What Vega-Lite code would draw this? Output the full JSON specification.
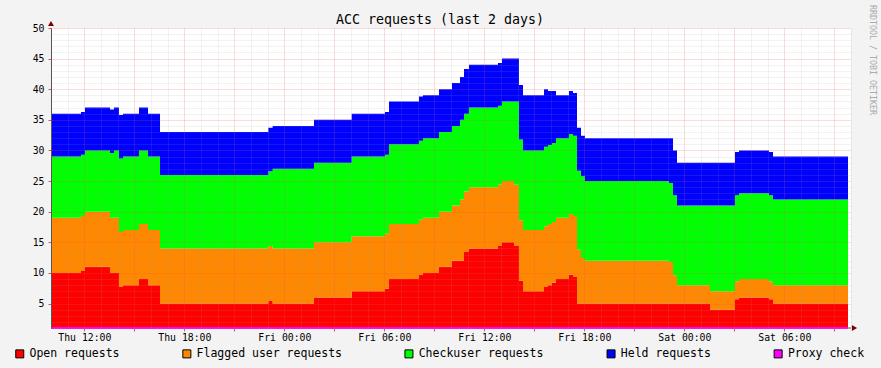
{
  "$schema": "https://vega.github.io/schema/vega-lite/v6.json",
  "width": 800,
  "height": 300,
  "autosize": {"type": "none"},
  "padding": {"left": 51, "top": 28, "right": 30, "bottom": 40},
  "background": "#f3f3f3",
  "view": {"fill": "#ffffff", "stroke": null},
  "config": {"font": "DejaVu Sans Mono"},
  "title": {"text": "ACC requests (last 2 days)", "font": "DejaVu Sans Mono", "fontSize": 13.3, "fontWeight": "normal", "color": "#000000", "anchor": "middle", "dx": -11, "dy": 25, "offset": 4},
  "resolve": {"axis": {"x": "independent", "y": "independent"}},
  "datasets": {
    "acc": [
      {"t": 10.00, "Open requests": 10, "Flagged user requests": 9, "Checkuser requests": 10, "Held requests": 7, "Proxy check": 0},
      {"t": 11.80, "Open requests": 10.3, "Flagged user requests": 9, "Checkuser requests": 10, "Held requests": 7, "Proxy check": 0},
      {"t": 12.04, "Open requests": 11, "Flagged user requests": 9, "Checkuser requests": 10, "Held requests": 7, "Proxy check": 0},
      {"t": 13.54, "Open requests": 10, "Flagged user requests": 9, "Checkuser requests": 10.6, "Held requests": 7.1, "Proxy check": 0},
      {"t": 13.78, "Open requests": 10, "Flagged user requests": 9, "Checkuser requests": 11, "Held requests": 7, "Proxy check": 0},
      {"t": 14.08, "Open requests": 7.7, "Flagged user requests": 9, "Checkuser requests": 12, "Held requests": 7.1, "Proxy check": 0},
      {"t": 14.32, "Open requests": 8, "Flagged user requests": 9, "Checkuser requests": 12, "Held requests": 7, "Proxy check": 0},
      {"t": 15.28, "Open requests": 9, "Flagged user requests": 9, "Checkuser requests": 12, "Held requests": 7, "Proxy check": 0},
      {"t": 15.82, "Open requests": 8, "Flagged user requests": 9, "Checkuser requests": 12, "Held requests": 7, "Proxy check": 0},
      {"t": 16.54, "Open requests": 5, "Flagged user requests": 9, "Checkuser requests": 12, "Held requests": 7, "Proxy check": 0},
      {"t": 23.04, "Open requests": 5.4, "Flagged user requests": 9, "Checkuser requests": 12.2, "Held requests": 7.1, "Proxy check": 0},
      {"t": 23.30, "Open requests": 5, "Flagged user requests": 9, "Checkuser requests": 13, "Held requests": 7, "Proxy check": 0},
      {"t": 25.78, "Open requests": 6, "Flagged user requests": 9, "Checkuser requests": 13, "Held requests": 7, "Proxy check": 0},
      {"t": 28.04, "Open requests": 7, "Flagged user requests": 9, "Checkuser requests": 13, "Held requests": 7, "Proxy check": 0},
      {"t": 30.04, "Open requests": 7.4, "Flagged user requests": 9, "Checkuser requests": 12.9, "Held requests": 7, "Proxy check": 0},
      {"t": 30.28, "Open requests": 9, "Flagged user requests": 9, "Checkuser requests": 13, "Held requests": 7, "Proxy check": 0},
      {"t": 32.08, "Open requests": 9.7, "Flagged user requests": 9, "Checkuser requests": 12.9, "Held requests": 7.2, "Proxy check": 0},
      {"t": 32.32, "Open requests": 10, "Flagged user requests": 9, "Checkuser requests": 13, "Held requests": 7, "Proxy check": 0},
      {"t": 33.28, "Open requests": 11, "Flagged user requests": 9, "Checkuser requests": 13, "Held requests": 7, "Proxy check": 0},
      {"t": 34.06, "Open requests": 12, "Flagged user requests": 9, "Checkuser requests": 13, "Held requests": 7, "Proxy check": 0},
      {"t": 34.54, "Open requests": 12, "Flagged user requests": 10, "Checkuser requests": 13, "Held requests": 7, "Proxy check": 0},
      {"t": 34.78, "Open requests": 13.4, "Flagged user requests": 9.9, "Checkuser requests": 12.7, "Held requests": 7.3, "Proxy check": 0},
      {"t": 35.08, "Open requests": 14, "Flagged user requests": 10, "Checkuser requests": 13, "Held requests": 7, "Proxy check": 0},
      {"t": 36.82, "Open requests": 14.4, "Flagged user requests": 10, "Checkuser requests": 12.9, "Held requests": 7, "Proxy check": 0},
      {"t": 37.06, "Open requests": 15, "Flagged user requests": 10, "Checkuser requests": 13, "Held requests": 7, "Proxy check": 0},
      {"t": 37.78, "Open requests": 14.4, "Flagged user requests": 10, "Checkuser requests": 13.6, "Held requests": 7, "Proxy check": 0},
      {"t": 38.08, "Open requests": 8.7, "Flagged user requests": 9.9, "Checkuser requests": 13.2, "Held requests": 8.9, "Proxy check": 0},
      {"t": 38.32, "Open requests": 7, "Flagged user requests": 10, "Checkuser requests": 13, "Held requests": 9, "Proxy check": 0},
      {"t": 39.58, "Open requests": 7.7, "Flagged user requests": 9.9, "Checkuser requests": 13, "Held requests": 9.4, "Proxy check": 0},
      {"t": 39.82, "Open requests": 8, "Flagged user requests": 10, "Checkuser requests": 12.9, "Held requests": 8.8, "Proxy check": 0},
      {"t": 40.06, "Open requests": 8.4, "Flagged user requests": 9.9, "Checkuser requests": 12.9, "Held requests": 8.5, "Proxy check": 0},
      {"t": 40.30, "Open requests": 9, "Flagged user requests": 10, "Checkuser requests": 13, "Held requests": 7, "Proxy check": 0},
      {"t": 41.08, "Open requests": 9.7, "Flagged user requests": 9.9, "Checkuser requests": 13.1, "Held requests": 7, "Proxy check": 0},
      {"t": 41.32, "Open requests": 9.35, "Flagged user requests": 9.95, "Checkuser requests": 13.1, "Held requests": 7, "Proxy check": 0},
      {"t": 41.56, "Open requests": 5, "Flagged user requests": 8.8, "Checkuser requests": 12.9, "Held requests": 7, "Proxy check": 0},
      {"t": 41.80, "Open requests": 5, "Flagged user requests": 7.45, "Checkuser requests": 13.35, "Held requests": 6.6, "Proxy check": 0},
      {"t": 42.04, "Open requests": 5, "Flagged user requests": 7, "Checkuser requests": 13, "Held requests": 7, "Proxy check": 0},
      {"t": 47.08, "Open requests": 5, "Flagged user requests": 6.8, "Checkuser requests": 12.9, "Held requests": 7.3, "Proxy check": 0},
      {"t": 47.32, "Open requests": 5, "Flagged user requests": 4.6, "Checkuser requests": 13.1, "Held requests": 7.3, "Proxy check": 0},
      {"t": 47.56, "Open requests": 5, "Flagged user requests": 3, "Checkuser requests": 13, "Held requests": 7, "Proxy check": 0},
      {"t": 49.54, "Open requests": 4, "Flagged user requests": 3, "Checkuser requests": 14, "Held requests": 7, "Proxy check": 0},
      {"t": 51.04, "Open requests": 5.7, "Flagged user requests": 2.9, "Checkuser requests": 14.1, "Held requests": 7.05, "Proxy check": 0},
      {"t": 51.28, "Open requests": 6, "Flagged user requests": 3, "Checkuser requests": 14, "Held requests": 7, "Proxy check": 0},
      {"t": 53.08, "Open requests": 5.7, "Flagged user requests": 2.9, "Checkuser requests": 14.1, "Held requests": 7.05, "Proxy check": 0},
      {"t": 53.32, "Open requests": 5, "Flagged user requests": 3, "Checkuser requests": 14, "Held requests": 7, "Proxy check": 0},
      {"t": 57.82, "Open requests": 5, "Flagged user requests": 3, "Checkuser requests": 14, "Held requests": 7, "Proxy check": 0}
    ],
    "frame": [{"x0": 10, "x1": 58, "y0": 1, "y1": 50}]
  },
  "layer": [
    {
      "data": {"name": "acc"},
      "transform": [
        {"fold": ["Open requests", "Flagged user requests", "Checkuser requests", "Held requests", "Proxy check"], "as": ["series", "value"]},
        {"calculate": "indexof(['Open requests','Flagged user requests','Checkuser requests','Held requests','Proxy check'], datum.series)", "as": "stackOrder"}
      ],
      "mark": {"type": "area", "interpolate": "step-after", "clip": true},
      "encoding": {
        "x": {
          "field": "t", "type": "quantitative",
          "scale": {"domain": [10, 58], "nice": false, "zero": false},
          "axis": {
            "orient": "bottom",
            "values": [10,11,12,13,14,15,16,17,18,19,20,21,22,23,24,25,26,27,28,29,30,31,32,33,34,35,36,37,38,39,40,41,42,43,44,45,46,47,48,49,50,51,52,53,54,55,56,57,58],
            "title": null,
            "grid": true,
            "gridColor": {"condition": {"test": "datum.value % 3 === 0", "value": "#e25454"}, "value": "#a0a0a0"},
            "gridOpacity": {"condition": {"test": "datum.value % 3 === 0", "value": 0.4}, "value": 0.28},
            "gridDash": [1, 1],
            "gridWidth": 1,
            "domain": false,
            "ticks": true,
            "tickSize": 3,
            "tickColor": {"condition": {"test": "datum.value % 3 === 0", "value": "#e25454"}, "value": "rgba(0,0,0,0)"},
            "labelExpr": "datum.value % 6 === 0 ? ['Thu','Fri','Sat'][floor(datum.value / 24)] + ' ' + (datum.value % 24 < 10 ? '0' : '') + (datum.value % 24) + ':00' : ''",
            "labelFont": "DejaVu Sans Mono",
            "labelFontSize": 9.8,
            "labelColor": "#000000",
            "labelPadding": 1,
            "labelOverlap": false,
            "labelFlush": false,
            "labelBound": false,
            "zindex": 1
          }
        },
        "y": {
          "field": "value", "type": "quantitative", "stack": "zero",
          "scale": {"domain": [1, 50], "nice": false, "zero": false, "clamp": true},
          "axis": {
            "orient": "left",
            "values": [1,2,3,4,5,6,7,8,9,10,11,12,13,14,15,16,17,18,19,20,21,22,23,24,25,26,27,28,29,30,31,32,33,34,35,36,37,38,39,40,41,42,43,44,45,46,47,48,49,50],
            "title": null,
            "grid": true,
            "gridColor": {"condition": {"test": "datum.value % 5 === 0", "value": "#e25454"}, "value": "#a0a0a0"},
            "gridOpacity": {"condition": {"test": "datum.value % 5 === 0", "value": 0.4}, "value": 0.28},
            "gridDash": [1, 1],
            "gridWidth": 1,
            "domain": true,
            "domainColor": "#555555",
            "domainWidth": 1,
            "ticks": true,
            "tickSize": 3,
            "tickColor": {"condition": {"test": "datum.value % 5 === 0", "value": "#e25454"}, "value": "rgba(0,0,0,0)"},
            "labelExpr": "datum.value % 5 === 0 ? datum.label : ''",
            "labelFont": "DejaVu Sans Mono",
            "labelFontSize": 9.8,
            "labelColor": "#000000",
            "labelPadding": 4,
            "labelOverlap": false,
            "labelBound": false,
            "zindex": 1
          }
        },
        "color": {
          "field": "series", "type": "nominal",
          "scale": {
            "domain": ["Open requests", "Flagged user requests", "Checkuser requests", "Held requests", "Proxy check"],
            "range": ["#ff0000", "#ff8800", "#00ff00", "#0000ff", "#ff00ff"]
          },
          "legend": {
            "orient": "none",
            "legendX": -37,
            "legendY": 320,
            "direction": "horizontal",
            "columns": 5,
            "columnPadding": 60.1,
            "title": null,
            "padding": 0,
            "symbolType": "square",
            "symbolSize": 64,
            "symbolStrokeColor": "#000000",
            "symbolStrokeWidth": 1,
            "symbolOpacity": 1,
            "labelFont": "DejaVu Sans Mono",
            "labelFontSize": 11.5,
            "labelColor": "#000000",
            "labelOffset": 4,
            "labelLimit": 400
          }
        },
        "order": {"field": "stackOrder", "type": "quantitative", "sort": "ascending"}
      }
    },
    {
      "data": {"name": "frame"},
      "mark": {"type": "rule", "color": "#555555", "strokeWidth": 1},
      "encoding": {
        "x": {"field": "x0", "type": "quantitative", "axis": null},
        "x2": {"field": "x1"},
        "y": {"field": "y0", "type": "quantitative", "axis": null}
      }
    },
    {
      "data": {"name": "acc"},
      "mark": {"type": "line", "interpolate": "step-after", "color": "#ff00ff", "strokeWidth": 2},
      "encoding": {
        "x": {"field": "t", "type": "quantitative", "axis": null},
        "y": {"field": "Proxy check", "type": "quantitative", "axis": null}
      }
    },
    {
      "data": {"name": "frame"},
      "mark": {"type": "point", "shape": "triangle-up", "filled": true, "color": "#7f0000", "opacity": 1, "size": 36, "yOffset": -4.5},
      "encoding": {
        "x": {"field": "x0", "type": "quantitative", "axis": null},
        "y": {"field": "y1", "type": "quantitative", "axis": null}
      }
    },
    {
      "data": {"name": "frame"},
      "mark": {"type": "point", "shape": "triangle-right", "filled": true, "color": "#7f0000", "opacity": 1, "size": 36, "xOffset": 3.5},
      "encoding": {
        "x": {"field": "x1", "type": "quantitative", "axis": null},
        "y": {"field": "y0", "type": "quantitative", "axis": null}
      }
    },
    {
      "data": {"name": "frame"},
      "mark": {"type": "text", "text": "RRDTOOL / TOBI OETIKER", "angle": 90, "align": "left", "baseline": "middle", "font": "DejaVu Sans Mono", "fontSize": 8.3, "color": "#aaaaaa", "dx": -23, "dy": -21},
      "encoding": {
        "x": {"field": "x1", "type": "quantitative", "axis": null},
        "y": {"field": "y1", "type": "quantitative", "axis": null}
      }
    }
  ]
}
